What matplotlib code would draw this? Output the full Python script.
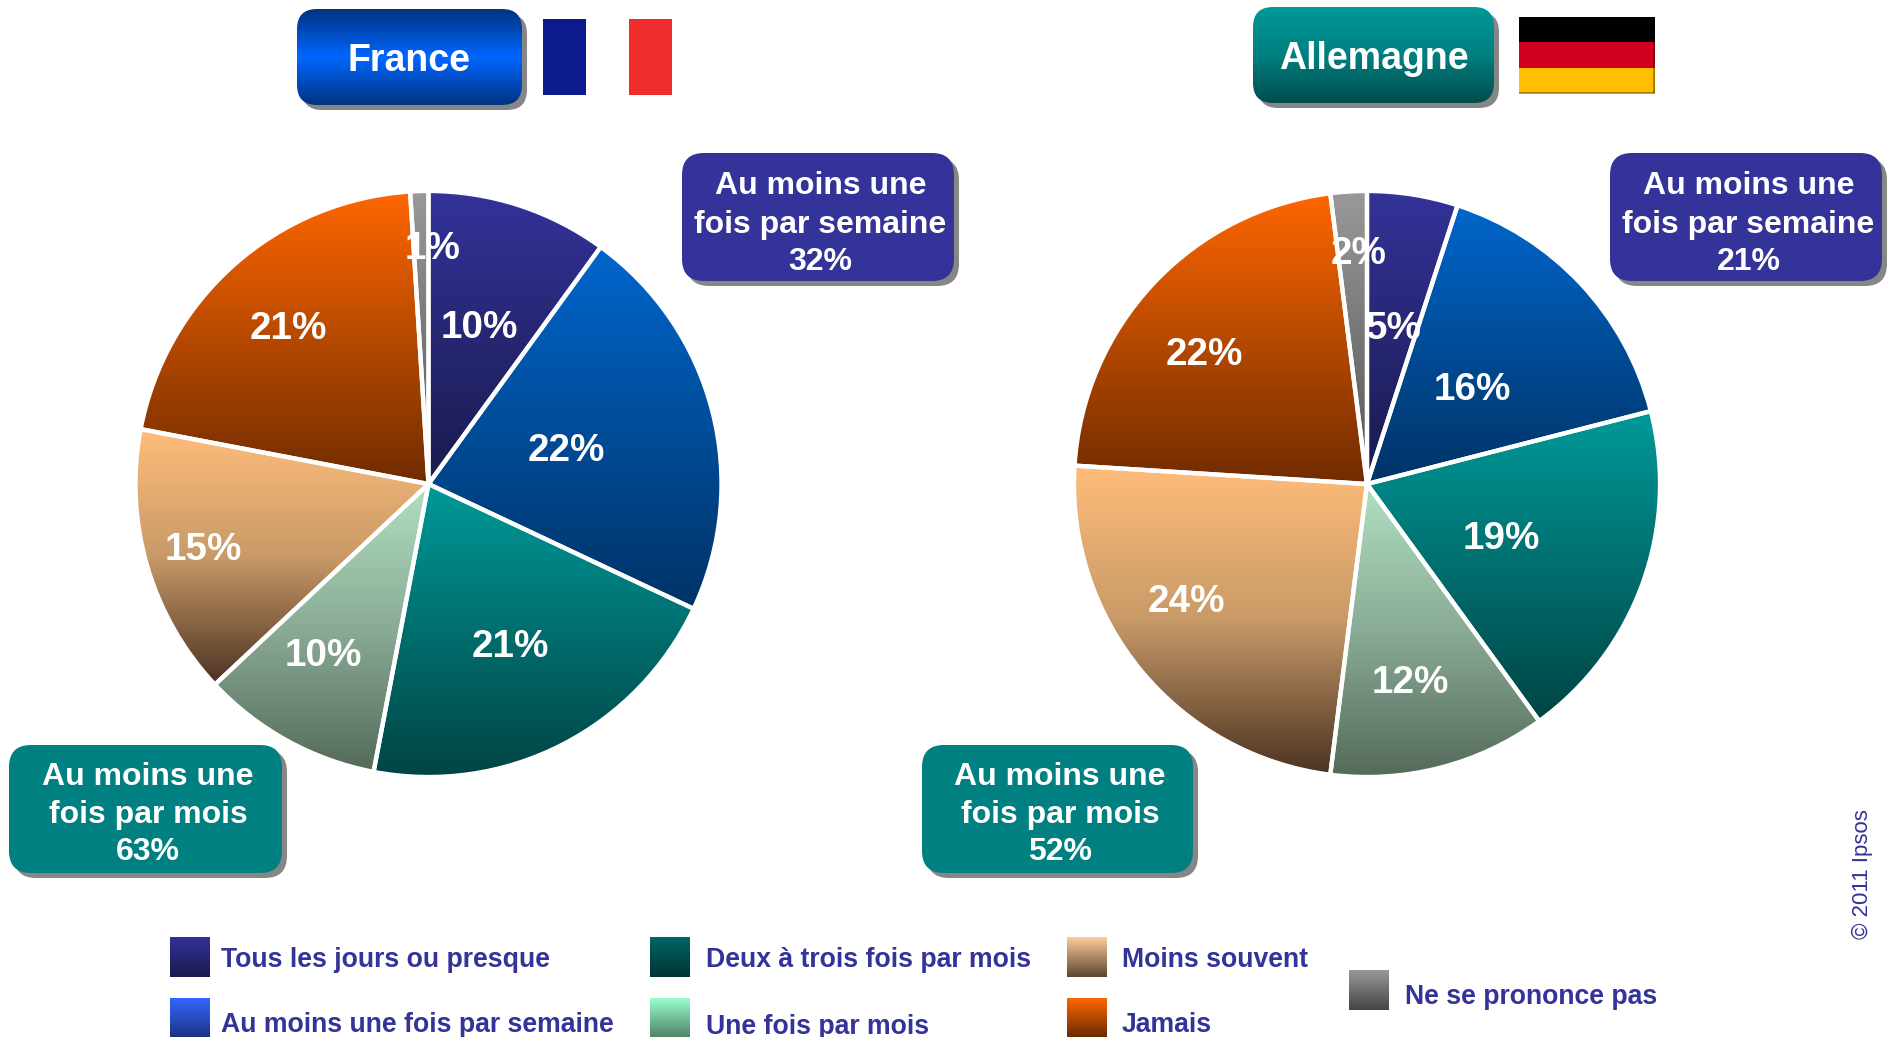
import numpy as np
import matplotlib
matplotlib.use("Agg")
import matplotlib.pyplot as plt
from matplotlib.colors import LinearSegmentedColormap
from matplotlib.patches import FancyBboxPatch, Rectangle

plt.rcParams['font.family'] = ['Liberation Sans', 'DejaVu Sans']

categories = ["Tous les jours ou presque", "Au moins une fois par semaine",
              "Deux à trois fois par mois", "Une fois par mois",
              "Moins souvent", "Jamais", "Ne se prononce pas"]
france = [10, 22, 21, 10, 15, 21, 1]
allemagne = [5, 16, 19, 12, 24, 22, 2]
france_hebdo, france_mois = 32, 63
allemagne_hebdo, allemagne_mois = 21, 52

W, H = 1890, 1037
NAVY = "#333399"
TEAL = "#008080"
SHADOW = "#868686"

slice_grad = [("#333399", "#1a1a4d"), ("#0066cc", "#003366"), ("#009999", "#004444"),
              ("#b0e0c0", "#8aab96", "#546a5a"), ("#ffbd7a", "#c89a68", "#4a3222"),
              ("#ff6600", "#6f2c00"), ("#999999", "#555555")]
legend_grad = [("#333399", "#1a1a4d"), ("#3366ff", "#1a3380"), ("#006666", "#003333"),
               ("#99ffcc", "#4d8066"), ("#ffcc99", "#5c4630"), ("#ff6600", "#662900"),
               ("#999999", "#444444")]

fig = plt.figure(figsize=(W / 100, H / 100), dpi=100, facecolor="white")
bg = fig.add_axes([0, 0, 1, 1])
bg.set_xlim(0, W)
bg.set_ylim(H, 0)
bg.axis("off")


def grad_fill(ax, extent, colors, clip=None, zorder=2):
    cmap = LinearSegmentedColormap.from_list("g", colors)
    g = np.linspace(0, 1, 256)[:, None]
    x0, x1, y0, y1 = extent
    im = ax.imshow(g, cmap=cmap, vmin=0, vmax=1, aspect="auto",
                   extent=(x0, x1, y1, y0), origin="upper", zorder=zorder, interpolation="bilinear")
    if clip is not None:
        im.set_clip_path(clip)
    return im


def rbox(ax, x0, y0, x1, y1, r=20, **kw):
    return FancyBboxPatch((x0 + r, y0 + r), x1 - x0 - 2 * r, y1 - y0 - 2 * r,
                          boxstyle=f"round,pad={r},rounding_size={r}", linewidth=0, **kw)


def badge(x0, y0, x1, y1, colors=None, face=None, r=20):
    bg.add_patch(rbox(bg, x0 + 5, y0 + 5, x1 + 5, y1 + 5, r, facecolor=SHADOW, zorder=1))
    if colors is None:
        bg.add_patch(rbox(bg, x0, y0, x1, y1, r, facecolor=face, zorder=2))
    else:
        p = rbox(bg, x0, y0, x1, y1, r, facecolor="none", zorder=2)
        bg.add_patch(p)
        grad_fill(bg, (x0, x1, y0, y1), colors, clip=p)


def callout(x0, y0, x1, y1, face, lines, top, step):
    badge(x0, y0, x1, y1, face=face, r=22)
    cx = (x0 + x1) / 2 + 2.5
    for i, t in enumerate(lines):
        bg.text(cx, y0 + top + i * step, t, color="white", fontsize=23, fontweight="bold",
                ha="center", va="center", zorder=3)


def pie(values, cx, cy, R, label_r, label_nudge):
    ax = fig.add_axes([(cx - R) / W, 1 - (cy + R) / H, 2 * R / W, 2 * R / H])
    wedges, _ = ax.pie(values, startangle=90, counterclock=False, radius=1,
                       colors=["none"] * len(values),
                       wedgeprops=dict(edgecolor="white", linewidth=3.1))
    ax.set_xlim(-1, 1)
    ax.set_ylim(-1, 1)
    ax.set_autoscale_on(False)
    for i, w in enumerate(wedges):
        ext = w.get_path().get_extents(w.get_patch_transform())
        grad_fill(ax, (ext.x0, ext.x1, ext.y1, ext.y0), slice_grad[i], clip=w, zorder=2)
        w.set_zorder(3)
    ax.set_xlim(-1, 1)
    ax.set_ylim(-1, 1)
    ax.set_aspect("equal")
    k = 291 / R
    for w, v, lr, (nx, ny) in zip(wedges, values, label_r, label_nudge):
        a = np.deg2rad((w.theta1 + w.theta2) / 2)
        ax.text(k * lr * np.cos(a) + nx / R, k * lr * np.sin(a) - (ny + 3.5) / R, f"{v}%",
                color="white", fontsize=27.8, fontweight="bold",
                ha="center", va="center", zorder=5, clip_on=False)
    return ax


pie(france, 428.5, 484, 293, [0.573, 0.49, 0.62, 0.685, 0.805, 0.73, 0.82],
    [(-1, -1), (0, -1), (0, -1), (-9, -6), (0, -3), (0, 1), (12, 0)])
pie(allemagne, 1367, 484, 293, [0.548, 0.495, 0.495, 0.70, 0.74, 0.71, 0.80],
    [(2, -1), (0, 1), (-1, 3), (-7, -2), (-15, -23), (-12, 9), (6, -1)])

# Titres
badge(297, 9, 522, 105, colors=["#003380", "#0066ff", "#003380"])
bg.text(409.5, 61, "France", color="white", fontsize=27, fontweight="bold", ha="center", va="center", zorder=3)
badge(1253, 7, 1494, 103, colors=["#009999", "#007f7f", "#004d4d"])
bg.text(1373.5, 59, "Allemagne", color="white", fontsize=27, fontweight="bold", ha="center", va="center", zorder=3)

# Drapeaux
for (x0, x1, c) in [(543, 586, "#0c1a8c"), (629, 672, "#f02d2d")]:
    bg.add_patch(Rectangle((x0, 19), x1 - x0, 76, facecolor=c, linewidth=0))
for (y0, y1, c) in [(17, 42, "#000000"), (42, 68, "#d2001e"), (68, 93, "#ffbf00")]:
    bg.add_patch(Rectangle((1519, y0), 136, y1 - y0, facecolor=c, linewidth=0))
bg.add_patch(Rectangle((1653, 17), 2, 76, facecolor="black", alpha=0.35, linewidth=0))
bg.add_patch(Rectangle((1519, 92), 136, 1.5, facecolor="black", alpha=0.35, linewidth=0))

# Encadrés
callout(682, 153, 954, 281, NAVY, ["Au moins une", "fois par semaine", f"{france_hebdo}%"], 33.5, 38)
callout(1610, 153, 1882, 281, NAVY, ["Au moins une", "fois par semaine", f"{allemagne_hebdo}%"], 33.5, 38)
callout(9, 745, 282, 873, TEAL, ["Au moins une", "fois par mois", f"{france_mois}%"], 32, 37.5)
callout(922, 745, 1193, 873, TEAL, ["Au moins une", "fois par mois", f"{allemagne_mois}%"], 32, 37.5)

# Légende
pos = [(170, 937, 221, 960), (170, 998, 221, 1025.5), (650, 937, 706, 960),
       (650, 998, 706, 1027), (1067, 937, 1122, 960), (1067, 998, 1122, 1025.5),
       (1349, 970, 1405, 997.5)]
for cat, g, (sx, sy, tx, ty) in zip(categories, legend_grad, pos):
    sw = 39.5
    grad_fill(bg, (sx, sx + sw, sy + 0.5, sy + 0.5 + sw), g, zorder=2)
    bg.text(tx, ty, cat, color=NAVY, fontsize=19.2, fontweight="bold", ha="left", va="center", zorder=3)

bg.text(1862, 874, "© 2011 Ipsos", color=NAVY, fontsize=16, rotation=90, ha="center", va="center")
bg.set_xlim(0, W)
bg.set_ylim(H, 0)

fig.savefig("out.png", dpi=100, facecolor="white")
